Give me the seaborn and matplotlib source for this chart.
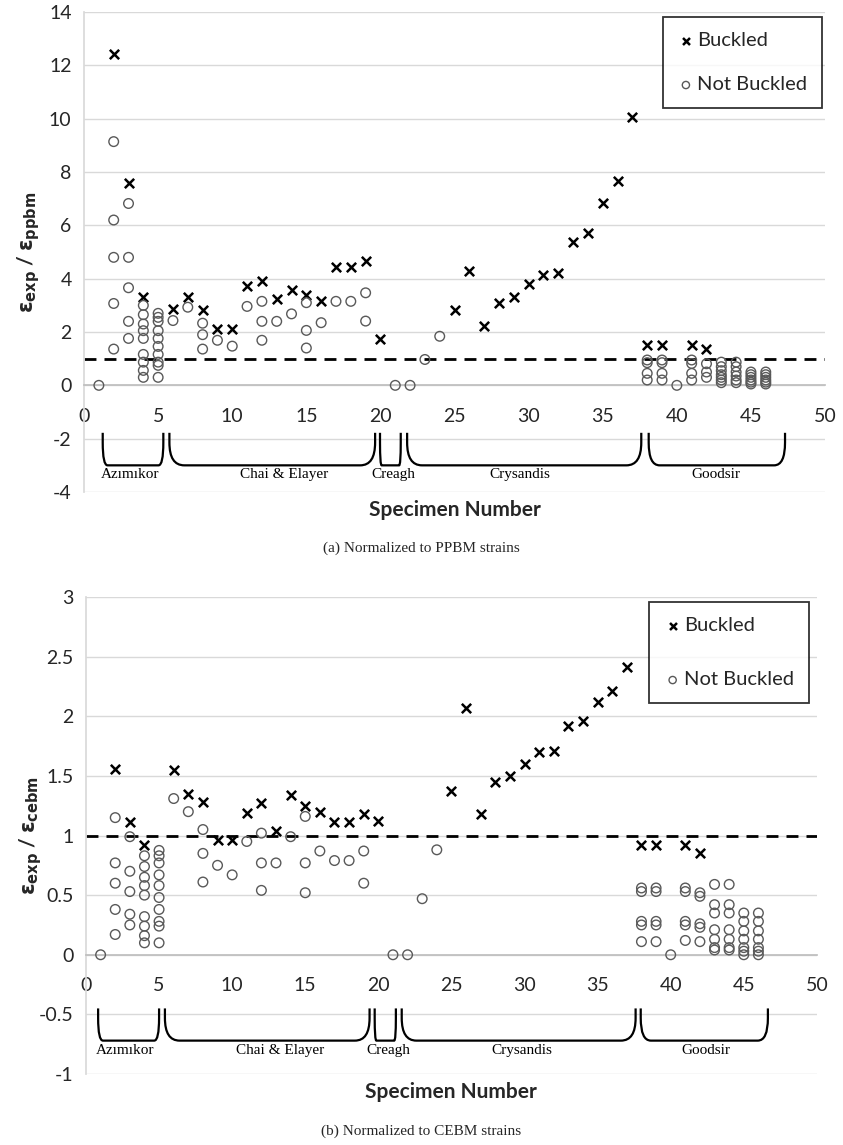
import numpy as np
import pandas as pd
import seaborn as sns
import matplotlib.pyplot as plt
from matplotlib.path import Path
from matplotlib.patches import PathPatch
from matplotlib.ticker import MultipleLocator, FuncFormatter

# (a) strains normalized to PPBM
ppbm_buckled_spec = [2, 3, 4, 6, 7, 8, 9, 10, 11, 12, 13, 14, 15, 16, 17, 18, 19, 20,
                     25, 26, 27, 28, 29, 30, 31, 32, 33, 34, 35, 36, 37, 38, 39, 41, 42]
ppbm_buckled = [12.43, 7.6, 3.3, 2.88, 3.3, 2.84, 2.13, 2.13, 3.72, 3.93, 3.25, 3.56,
                3.37, 3.18, 4.43, 4.43, 4.68, 1.75, 2.81, 4.27, 2.22, 3.08, 3.33, 3.81,
                4.15, 4.2, 5.36, 5.7, 6.85, 7.68, 10.05, 1.52, 1.52, 1.52, 1.35]
ppbm_open_spec = [1,
                  2, 2, 2, 2, 2,
                  3, 3, 3, 3, 3,
                  4, 4, 4, 4, 4, 4, 4, 4, 4,
                  5, 5, 5, 5, 5, 5, 5, 5, 5, 5,
                  6, 7, 8, 8, 8, 9, 10, 11, 12, 12, 12, 13, 14, 15, 15, 15,
                  16, 17, 18, 19, 19, 21, 22, 23, 24,
                  38, 38, 38, 38, 39, 39, 39, 39, 40, 41, 41, 41, 41, 42, 42, 42,
                  43, 43, 43, 43, 43, 43, 43, 44, 44, 44, 44, 44, 44,
                  45, 45, 45, 45, 45, 45, 46, 46, 46, 46, 46, 46]
ppbm_open = [0,
             9.14, 6.2, 4.8, 3.07, 1.36,
             6.82, 4.8, 3.66, 2.4, 1.76,
             3.0, 2.65, 2.3, 2.05, 1.76, 1.16, 0.87, 0.56, 0.3,
             2.7, 2.55, 2.4, 2.05, 1.76, 1.46, 1.16, 0.87, 0.75, 0.3,
             2.43, 2.93, 2.33, 1.9, 1.36, 1.69, 1.47, 2.96, 3.15, 2.4, 1.69, 2.4, 2.68,
             3.1, 2.06, 1.4,
             2.35, 3.15, 3.15, 3.47, 2.41, 0, 0, 0.97, 1.84,
             0.95, 0.85, 0.45, 0.2, 0.95, 0.85, 0.45, 0.2, 0, 0.95, 0.82, 0.45, 0.2,
             0.81, 0.5, 0.3,
             0.87, 0.7, 0.55, 0.4, 0.3, 0.2, 0.1, 0.87, 0.7, 0.5, 0.35, 0.2, 0.1,
             0.5, 0.4, 0.3, 0.2, 0.12, 0.05, 0.5, 0.4, 0.3, 0.2, 0.12, 0.05]

# (b) strains normalized to CEBM
cebm_buckled_spec = ppbm_buckled_spec
cebm_buckled = [1.56, 1.11, 0.92, 1.55, 1.35, 1.28, 0.96, 0.96, 1.19, 1.27, 1.04, 1.34,
                1.25, 1.2, 1.11, 1.11, 1.18, 1.12, 1.37, 2.07, 1.18, 1.45, 1.5, 1.6,
                1.7, 1.71, 1.92, 1.96, 2.12, 2.21, 2.41, 0.92, 0.92, 0.92, 0.85]
cebm_open_spec = [1,
                  2, 2, 2, 2, 2,
                  3, 3, 3, 3, 3,
                  4, 4, 4, 4, 4, 4, 4, 4, 4,
                  5, 5, 5, 5, 5, 5, 5, 5, 5, 5,
                  6, 7, 8, 8, 8, 9, 10, 11, 12, 12, 12, 13, 14, 15, 15, 15,
                  16, 17, 18, 19, 19, 21, 22, 23, 24,
                  38, 38, 38, 38, 38, 39, 39, 39, 39, 39, 40,
                  41, 41, 41, 41, 41, 42, 42, 42, 42, 42,
                  43, 43, 43, 43, 43, 43, 43, 44, 44, 44, 44, 44, 44, 44,
                  45, 45, 45, 45, 45, 45, 45, 46, 46, 46, 46, 46, 46, 46]
cebm_open = [0,
             1.15, 0.77, 0.6, 0.38, 0.17,
             0.99, 0.7, 0.53, 0.34, 0.25,
             0.83, 0.74, 0.65, 0.58, 0.5, 0.32, 0.24, 0.16, 0.1,
             0.875, 0.83, 0.77, 0.67, 0.58, 0.48, 0.38, 0.28, 0.24, 0.1,
             1.31, 1.2, 1.05, 0.85, 0.61, 0.75, 0.67, 0.95, 1.02, 0.77, 0.54, 0.77, 0.99,
             1.16, 0.77, 0.52,
             0.87, 0.79, 0.79, 0.87, 0.6, 0, 0, 0.47, 0.88,
             0.56, 0.53, 0.28, 0.25, 0.11, 0.56, 0.53, 0.28, 0.25, 0.11, 0,
             0.56, 0.53, 0.28, 0.25, 0.12, 0.52, 0.49, 0.26, 0.23, 0.11,
             0.59, 0.42, 0.35, 0.21, 0.13, 0.06, 0.04, 0.59, 0.42, 0.35, 0.21, 0.13, 0.06, 0.04,
             0.35, 0.28, 0.2, 0.13, 0.06, 0.03, 0.0, 0.35, 0.28, 0.2, 0.13, 0.06, 0.03, 0.0]

# source groups under the x axis
groups = ["Azımıkor", "Chai & Elayer", "Creagh", "Crysandis", "Goodsir"]
ppbm_group_lo = [1.26, 5.76, 19.97, 21.8, 38.1]
ppbm_group_hi = [5.35, 19.64, 21.37, 37.6, 47.3]
ppbm_label_x = [3.1, 13.5, 20.9, 29.4, 42.6]
cebm_group_lo = [0.83, 5.4, 19.75, 21.6, 37.95]
cebm_group_hi = [5.0, 19.4, 21.2, 37.6, 46.65]
cebm_label_x = [2.7, 13.3, 20.7, 29.8, 42.4]


def make_df(b_spec, b_val, o_spec, o_val):
    b = pd.DataFrame({"spec": b_spec, "ratio": b_val, "status": "Buckled"})
    o = pd.DataFrame({"spec": o_spec, "ratio": o_val, "status": "Not Buckled"})
    return pd.concat([b, o], ignore_index=True)


ppbm = make_df(ppbm_buckled_spec, ppbm_buckled, ppbm_open_spec, ppbm_open)
cebm = make_df(cebm_buckled_spec, cebm_buckled, cebm_open_spec, cebm_open)

sns.set_theme(style="white")
plt.rcParams["font.family"] = ["Lato", "DejaVu Sans"]
plt.rcParams["axes.unicode_minus"] = False
plt.rcParams["mathtext.fontset"] = "dejavusans"

fig = plt.figure(figsize=(8.43, 11.45), dpi=100)
ax1 = fig.add_axes([0.0997, 0.5703, 0.879, 0.4192])
ax2 = fig.add_axes([0.102, 0.0620, 0.867, 0.4166])


def draw_panel(ax, df, ylim, ystep, ylab, lo, hi, lab_x, br_top, br_bot, lab_y,
               leg_x, leg_space):
    ax.set_axisbelow(True)
    ax.grid(axis="y", color="#d9d9d9", lw=1)
    ax.axhline(1, color="black", lw=2, linestyle=(0, (4.3, 2.9)), zorder=1)

    sns.scatterplot(data=df[df.status == "Buckled"], x="spec", y="ratio", marker="x",
                    color="black", s=45, linewidth=1.8, label="Buckled", ax=ax, zorder=3)
    sns.scatterplot(data=df[df.status == "Not Buckled"], x="spec", y="ratio", marker="o",
                    facecolor="none", edgecolor="#595959", s=48, linewidth=1,
                    label="Not Buckled", ax=ax, zorder=3)

    ax.set_xlim(0, 50)
    ax.set_ylim(*ylim)
    ax.xaxis.set_major_locator(MultipleLocator(5))
    ax.xaxis.set_minor_locator(MultipleLocator(1))
    ax.yaxis.set_major_locator(MultipleLocator(ystep))
    ax.yaxis.set_major_formatter(FuncFormatter(lambda v, p: "{:g}".format(v)))

    for s in ["top", "right"]:
        ax.spines[s].set_visible(False)
    ax.spines["bottom"].set_position(("data", 0))
    ax.spines["bottom"].set_color("#bfbfbf")
    ax.spines["left"].set_color("#d9d9d9")
    ax.tick_params(axis="both", which="both", direction="out", colors="#bfbfbf",
                   labelcolor="#262626", labelsize=14)
    ax.tick_params(axis="x", which="major", length=5, pad=11)
    ax.tick_params(axis="x", which="minor", length=4)
    ax.tick_params(axis="y", length=5, pad=4)

    ax.set_xlabel("Specimen Number", fontsize=15, fontweight="bold", color="#262626")
    ax.xaxis.set_label_coords(0.5, -0.017)
    ax.set_ylabel(ylab, fontsize=15, fontweight="bold", color="#262626")
    ax.yaxis.set_label_coords(-0.057, 0.5)

    leg = ax.legend(loc="upper right", bbox_to_anchor=(leg_x, 0.99), borderaxespad=0,
                    frameon=True, fancybox=False, edgecolor="black", fontsize=14.5,
                    labelspacing=leg_space, borderpad=0.75, handletextpad=0.15,
                    handlelength=0.8, markerscale=0.75)
    leg.get_frame().set_linewidth(1.3)

    h = br_top - br_bot
    for a, b, x, name in zip(lo, hi, lab_x, groups):
        w = min(1.0, (b - a) * 0.08)
        verts = [(a, br_top), (a, br_bot + 0.7 * h), (a, br_bot), (a + w, br_bot),
                 (b - w, br_bot), (b, br_bot), (b, br_bot + 0.7 * h), (b, br_top)]
        codes = [Path.MOVETO, Path.LINETO, Path.CURVE3, Path.CURVE3, Path.LINETO,
                 Path.CURVE3, Path.CURVE3, Path.LINETO]
        ax.add_patch(PathPatch(Path(verts, codes), fill=False, lw=1.6, ec="black",
                               clip_on=False, zorder=4))
        ax.text(x, lab_y, name, ha="center", va="center", family="Liberation Serif",
                fontsize=11, color="black")


draw_panel(ax1, ppbm, (-4, 14), 2, r"$\mathbf{ε_{exp}}$ / $\mathbf{ε_{ppbm}}$",
           ppbm_group_lo, ppbm_group_hi, ppbm_label_x, -1.78, -3.0, -3.33, 0.996, 1.35)
draw_panel(ax2, cebm, (-1, 3), 0.5, r"$\mathbf{ε_{exp}}$ / $\mathbf{ε_{cebm}}$",
           cebm_group_lo, cebm_group_hi, cebm_label_x, -0.45, -0.72, -0.8, 0.989, 1.85)

fig.text(0.5, 1 - 548 / 1145, "(a) Normalized to PPBM strains", ha="center", va="center",
         family="Liberation Serif", fontsize=11)
fig.text(0.5, 1 - 1131 / 1145, "(b) Normalized to CEBM strains", ha="center", va="center",
         family="Liberation Serif", fontsize=11)

fig.savefig("out.png", dpi=100)
